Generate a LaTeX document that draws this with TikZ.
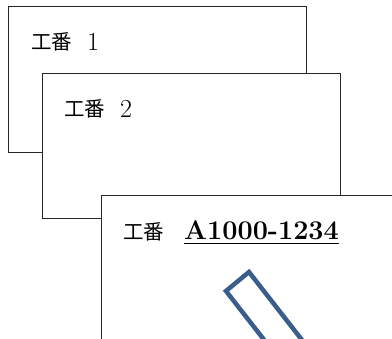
\documentclass[tikz,border=0pt]{standalone}
\usepackage{fontspec}
\newfontfamily\cjk{Noto Sans CJK JP}
\begin{document}
\begin{tikzpicture}[x=1pt,y=-1pt,
  card/.style={draw=black!85,line width=0.9pt,fill=white},
  cjklbl/.style={inner sep=0pt,anchor=base west,font=\cjk\fontsize{20.5}{21}\selectfont},
  numlbl/.style={inner sep=0pt,anchor=base west,font=\fontsize{26}{26}\selectfont},
  boldlbl/.style={inner sep=0pt,anchor=base west,font=\bfseries\fontsize{27}{27}\selectfont},
  bluebox/.style={draw={rgb,255:red,58;green,94;blue,140},line width=4.5pt,line join=miter}]
\useasboundingbox (0,0) rectangle (392,339);
\clip (0,0) rectangle (392,339);
\path[card] (8,6) rectangle (306,152);
\node[cjklbl] (t1a) at (31,50) {工番};
\node[numlbl] (t1b) at (87,51) {1};
\path[card] (42,73) rectangle (340,218);
\node[cjklbl] (t2a) at (64,117) {工番};
\node[numlbl] (t2b) at (120,118) {2};
\path[card] (101,195) rectangle (420,360);
\node[cjklbl] (t3a) at (123,240) {工番};
\node[boldlbl] (t3b) at (184,240) {A1000-1234};
\draw[line width=1.8pt] ([yshift=-3.5pt]t3b.base west) -- ([yshift=-3.5pt]t3b.base east);
\coordinate (ba) at (226,291);
\coordinate (bb) at (249,272);
\coordinate (bc) at (309,349);
\coordinate (bd) at (286,368);
\draw[bluebox] (ba) -- (bb) -- (bc) -- (bd) -- cycle;
\end{tikzpicture}
\end{document}
